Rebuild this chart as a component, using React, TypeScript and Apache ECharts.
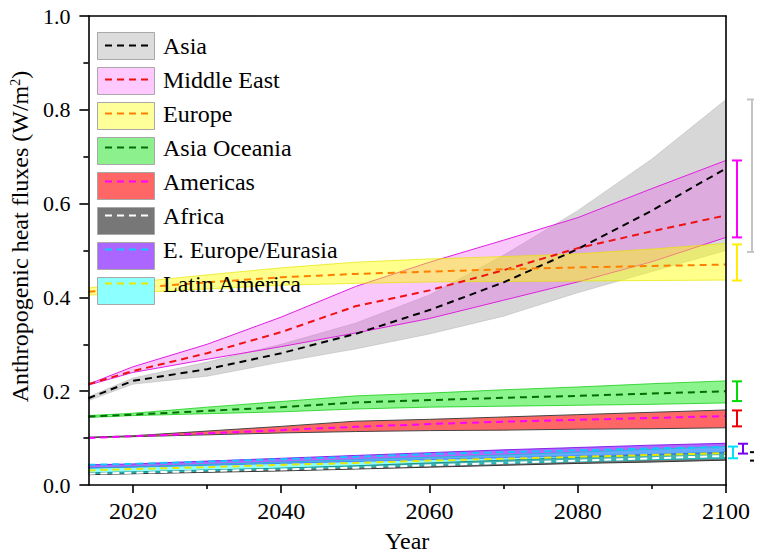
import React, { useEffect, useRef } from "react";
import * as echarts from "echarts";

const years = [2014, 2020, 2030, 2040, 2050, 2060, 2070, 2080, 2090, 2100];

const regions = [
  "Asia",
  "Middle East",
  "Europe",
  "Asia Oceania",
  "Americas",
  "Africa",
  "E. Europe/Eurasia",
  "Latin America",
];

// Mean (dashed) lines
const asiaMean = [0.185, 0.222, 0.247, 0.281, 0.322, 0.373, 0.432, 0.503, 0.585, 0.675];
const middleEastMean = [0.215, 0.243, 0.281, 0.326, 0.381, 0.415, 0.458, 0.505, 0.541, 0.575];
const europeMean = [0.412, 0.42, 0.432, 0.443, 0.45, 0.455, 0.46, 0.464, 0.467, 0.47];
const asiaOceaniaMean = [0.146, 0.15, 0.158, 0.166, 0.176, 0.181, 0.186, 0.19, 0.195, 0.2];
const americasMean = [0.1, 0.104, 0.11, 0.117, 0.124, 0.13, 0.135, 0.139, 0.143, 0.147];
const africaMean = [0.024, 0.026, 0.03, 0.033, 0.037, 0.042, 0.047, 0.052, 0.057, 0.062];
const eEuropeMean = [0.043, 0.045, 0.05, 0.055, 0.06, 0.066, 0.07, 0.074, 0.078, 0.081];
const latinAmericaMean = [0.031, 0.034, 0.038, 0.043, 0.047, 0.052, 0.056, 0.06, 0.064, 0.068];

// Band upper / lower bounds
const asiaHigh = [0.188, 0.228, 0.262, 0.3, 0.345, 0.405, 0.49, 0.585, 0.695, 0.822];
const asiaLow = [0.18, 0.215, 0.232, 0.262, 0.29, 0.322, 0.36, 0.41, 0.455, 0.5];
const middleEastHigh = [0.215, 0.252, 0.3, 0.358, 0.423, 0.475, 0.522, 0.57, 0.632, 0.692];
const middleEastLow = [0.213, 0.24, 0.268, 0.295, 0.324, 0.355, 0.394, 0.433, 0.476, 0.528];
const europeHigh = [0.42, 0.432, 0.448, 0.463, 0.475, 0.482, 0.487, 0.493, 0.503, 0.515];
const europeLow = [0.405, 0.41, 0.418, 0.426, 0.43, 0.433, 0.434, 0.435, 0.436, 0.437];
const asiaOceaniaHigh = [0.148, 0.153, 0.166, 0.178, 0.19, 0.196, 0.203, 0.209, 0.216, 0.222];
const asiaOceaniaLow = [0.144, 0.148, 0.152, 0.156, 0.162, 0.166, 0.168, 0.17, 0.172, 0.175];
const americasHigh = [0.102, 0.105, 0.115, 0.125, 0.136, 0.14, 0.145, 0.15, 0.155, 0.16];
const americasLow = [0.101, 0.103, 0.107, 0.111, 0.114, 0.116, 0.117, 0.119, 0.12, 0.122];
const africaHigh = [0.026, 0.028, 0.032, 0.036, 0.041, 0.047, 0.053, 0.059, 0.065, 0.07];
const africaLow = [0.022, 0.024, 0.027, 0.03, 0.034, 0.038, 0.042, 0.046, 0.049, 0.053];
const eEuropeHigh = [0.043, 0.045, 0.051, 0.057, 0.063, 0.069, 0.075, 0.08, 0.085, 0.089];
const eEuropeLow = [0.036, 0.038, 0.042, 0.046, 0.05, 0.054, 0.058, 0.062, 0.065, 0.068];
const latinAmericaHigh = [0.036, 0.039, 0.044, 0.049, 0.054, 0.059, 0.064, 0.07, 0.076, 0.082];
const latinAmericaLow = [0.024, 0.026, 0.03, 0.034, 0.038, 0.042, 0.046, 0.05, 0.054, 0.057];

// 2100 ranges (error bars at right)
const errLow = [0.497, 0.528, 0.436, 0.179, 0.125, 0.052, 0.067, 0.057];
const errHigh = [0.822, 0.692, 0.513, 0.221, 0.159, 0.07, 0.088, 0.082];

const xLabelValues = [2020, 2040, 2060, 2080, 2100];
const xMinorValues = [2030, 2050, 2070, 2090];

const FONT = "Liberation Serif";

const means = [asiaMean, middleEastMean, europeMean, asiaOceaniaMean, americasMean, africaMean, eEuropeMean, latinAmericaMean];
const highs = [asiaHigh, middleEastHigh, europeHigh, asiaOceaniaHigh, americasHigh, africaHigh, eEuropeHigh, latinAmericaHigh];
const lows = [asiaLow, middleEastLow, europeLow, asiaOceaniaLow, americasLow, africaLow, eEuropeLow, latinAmericaLow];

const lineColors = ["#000000", "#ee1111", "#ff8000", "#006e00", "#ff00ff", "#ffffff", "#10c8ff", "#e8e800"];
const bandFills = [
  "rgba(150,150,150,0.38)",
  "rgba(240,70,240,0.30)",
  "rgba(255,255,0,0.45)",
  "rgba(0,230,0,0.45)",
  "rgba(255,0,0,0.6)",
  "rgba(60,60,60,0.7)",
  "rgba(128,0,255,0.6)",
  "rgba(0,255,255,0.45)",
];
const bandEdges = [
  "rgba(170,170,170,0.4)",
  "#e020e0",
  "rgba(230,230,0,0.7)",
  "rgba(0,200,0,0.7)",
  "#444444",
  "#333333",
  "rgba(110,0,230,0.8)",
  "rgba(0,200,200,0.7)",
];
const legendFills = ["#dcdcdc", "#ffc8ff", "#ffff99", "#8cf08c", "#ff6666", "#777777", "#aa66ff", "#8cffff"];
const errColors = ["#c4c4c4", "#ff00ff", "#ffee00", "#00dd00", "#ee0000", "#000000", "#7700ee", "#00e0ff"];
const errOffsets = [26, 11, 11, 11, 11, 29, 17, 7];

export default function App() {
  const ref = useRef<HTMLDivElement>(null);
  useEffect(() => {
    if (!ref.current) return;
    const chart = echarts.init(ref.current, null, { renderer: "svg" });

    const bandSeries = regions.map((name, k) => ({
      type: "custom",
      name: name + " range",
      coordinateSystem: "cartesian2d",
      xAxisIndex: 0,
      yAxisIndex: 0,
      data: [[years[0], lows[k][0]]],
      z: 2,
      silent: true,
      clip: true,
      itemStyle: { color: legendFills[k] },
      renderItem: (params: any, api: any) => {
        const top = years.map((y, i) => api.coord([y, highs[k][i]]));
        const bot = years.map((y, i) => api.coord([y, lows[k][i]]));
        return {
          type: "group",
          children: [
            {
              type: "polygon",
              shape: { points: top.concat(bot.slice().reverse()) },
              style: { fill: bandFills[k], stroke: "none" },
            },
            {
              type: "polyline",
              shape: { points: top },
              style: { fill: "none", stroke: bandEdges[k], lineWidth: 1 },
            },
            {
              type: "polyline",
              shape: { points: bot },
              style: { fill: "none", stroke: bandEdges[k], lineWidth: 1 },
            },
          ],
        };
      },
    }));

    const lineSeries = regions.map((name, k) => ({
      type: "line",
      name,
      xAxisIndex: 0,
      yAxisIndex: 0,
      data: years.map((y, i) => [y, means[k][i]]),
      symbol: "none",
      z: 4,
      color: lineColors[k],
      lineStyle: { color: lineColors[k], width: 2, type: [7, 5] },
      silent: true,
    }));

    const errSeries = {
      type: "custom",
      name: "ranges2100",
      coordinateSystem: "cartesian2d",
      xAxisIndex: 0,
      yAxisIndex: 0,
      clip: false,
      silent: true,
      z: 5,
      data: regions.map((_, i) => [2100, errLow[i], errHigh[i], i]),
      encode: { x: 0, y: [1, 2] },
      renderItem: (params: any, api: any) => {
        const idx = api.value(3);
        const lo = api.coord([api.value(0), api.value(1)]);
        const hi = api.coord([api.value(0), api.value(2)]);
        const x = lo[0] + errOffsets[idx];
        const hw = 5;
        const st = { stroke: errColors[idx], lineWidth: 2, fill: "none" };
        return {
          type: "group",
          children: [
            { type: "line", shape: { x1: x, y1: lo[1], x2: x, y2: hi[1] }, style: st },
            { type: "line", shape: { x1: x - hw, y1: lo[1], x2: x + hw, y2: lo[1] }, style: st },
            { type: "line", shape: { x1: x - hw, y1: hi[1], x2: x + hw, y2: hi[1] }, style: st },
          ],
        };
      },
    };

    const axisLine = { show: true, lineStyle: { color: "#000", width: 1.6 } };

    chart.setOption({
      animation: false,
      backgroundColor: "#ffffff",
      grid: { left: 86, right: 36, top: 16, bottom: 70 },
      legend: [
        {
          orient: "vertical",
          left: 97,
          top: 32,
          padding: 0,
          itemWidth: 57,
          itemHeight: 27,
          itemGap: 7,
          icon: "rect",
          selectedMode: false,
          formatter: () => "",
          textStyle: { fontSize: 1, lineHeight: 1 },
          data: regions.map((r, k) => ({
            name: r + " range",
            itemStyle: { color: legendFills[k], borderColor: "#a8a8a8", borderWidth: 1 },
          })),
          z: 10,
        },
        {
          orient: "vertical",
          left: 104,
          top: 32,
          padding: 0,
          itemWidth: 44,
          itemHeight: 27,
          itemGap: 7,
          selectedMode: false,
          itemStyle: { opacity: 0 },
          textStyle: {
            fontFamily: FONT,
            fontSize: 24,
            color: "#000",
            lineHeight: 27,
            padding: [0, 0, 0, 9],
          },
          data: regions.map((r) => ({ name: r })),
          z: 11,
        },
      ],
      xAxis: [
        {
          type: "value",
          min: 2014,
          max: 2100,
          position: "bottom",
          name: "Year",
          nameLocation: "middle",
          nameGap: 44,
          nameTextStyle: { fontFamily: FONT, fontSize: 24, color: "#000" },
          axisLine,
          splitLine: { show: false },
          axisTick: { show: true, inside: false, length: 8, customValues: xLabelValues, lineStyle: { color: "#000", width: 1.6 } },
          axisLabel: {
            customValues: xLabelValues,
            fontFamily: FONT,
            fontSize: 24,
            color: "#000",
            margin: 14,
            formatter: (v: number) => String(Math.round(v)),
          },
          z: 20,
        },
        {
          type: "value",
          min: 2014,
          max: 2100,
          position: "bottom",
          axisLine: { show: false },
          splitLine: { show: false },
          axisTick: { show: true, inside: false, length: 4, customValues: xMinorValues, lineStyle: { color: "#000", width: 1.6 } },
          axisLabel: { show: false },
          z: 20,
        },
        {
          type: "value",
          min: 2014,
          max: 2100,
          position: "top",
          axisLine,
          splitLine: { show: false },
          axisTick: { show: false },
          axisLabel: { show: false },
          z: 20,
        },
      ],
      yAxis: [
        {
          type: "value",
          min: 0,
          max: 1,
          interval: 0.2,
          position: "left",
          name: "Anthropogenic heat fluxes (W/m{sup|2})",
          nameLocation: "middle",
          nameGap: 48,
          nameTextStyle: {
            fontFamily: FONT,
            fontSize: 24,
            color: "#000",
            padding: [0, 0, 0, 28],
            rich: {
              sup: { fontFamily: FONT, fontSize: 14, color: "#000", padding: [0, 0, 10, 0] },
            },
          },
          axisLine,
          splitLine: { show: false },
          axisTick: { show: true, inside: false, length: 9, lineStyle: { color: "#000", width: 1.6 } },
          minorTick: { show: true, splitNumber: 2, length: 5, lineStyle: { color: "#000", width: 1.6 } },
          axisLabel: {
            fontFamily: FONT,
            fontSize: 22,
            color: "#000",
            margin: 18,
            formatter: (v: number) => v.toFixed(1),
          },
          z: 20,
        },
        {
          type: "value",
          min: 0,
          max: 1,
          interval: 0.2,
          position: "right",
          axisLine,
          splitLine: { show: false },
          axisTick: { show: false },
          axisLabel: { show: false },
          z: 20,
        },
      ],
      series: [...bandSeries, ...lineSeries, errSeries],
    });

    return () => chart.dispose();
  }, []);

  return <div ref={ref} style={{ width: 762, height: 558, margin: -8 }} />;
}
